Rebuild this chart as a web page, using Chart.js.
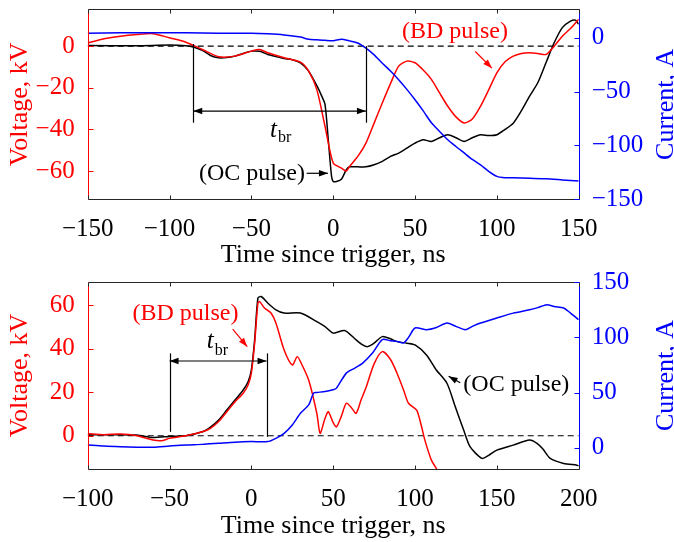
<!DOCTYPE html>
<html>
<head>
<meta charset="utf-8">
<script src="https://cdn.jsdelivr.net/npm/chart.js@4.4.1/dist/chart.umd.min.js"></script>
<style>
  html, body { margin: 0; padding: 0; overflow: hidden; background: #fff; width: 674px; height: 542px; }
  canvas { position: absolute; left: 0; }
  #top { top: 0; }
  #bottom { top: 271px; }
</style>
</head>
<body>
<canvas id="top" width="690" height="271"></canvas>
<canvas id="bottom" width="690" height="271"></canvas>
<script>
// ---- top panel data (ns, kV, A) ----
const topTimeTicks = [-150, -100, -50, 0, 50, 100, 150];
const topVoltTicks = [-60, -40, -20, 0];
const topAmpTicks = [-150, -100, -50, 0];

const topBdTime = [-150, -140, -130, -120, -110, -100, -90, -80, -70, -60, -50, -45, -40, -30, -20, -15, -10, -5, 0, 5, 8, 10, 15, 20, 25, 30, 35, 40, 45, 50, 55, 60, 65, 70, 75, 80, 85, 90, 95, 100, 105, 110, 115, 120, 125, 130, 135, 140, 145, 150];
const topBdVolt = [1.5, 3.5, 4.8, 5.6, 6, 4, 1.9, -1.6, -5.1, -4.8, -2.4, -1.6, -3.2, -5.6, -7.7, -12, -20.9, -38.5, -56.2, -58.6, -60, -57.8, -53, -46.6, -37, -27.3, -18, -9.6, -7.2, -8, -11.5, -16, -22.5, -28.9, -34, -36.9, -35, -28.9, -21, -12.8, -7.5, -4.8, -3.5, -3.2, -3.5, -4, 0, 4.8, 8.5, 12.9];

const topOcTime = [-150, -120, -100, -90, -85, -80, -75, -70, -65, -60, -55, -50, -45, -40, -35, -30, -25, -20, -15, -10, -7, -5, -3, -1, 0, 2, 5, 8, 10, 15, 20, 25, 30, 35, 40, 45, 50, 55, 60, 65, 70, 75, 80, 85, 90, 95, 100, 105, 110, 115, 120, 125, 130, 135, 140, 145, 148, 150];
const topOcVolt = [0.3, 0.2, 0.5, 0.2, -0.5, -2, -4.5, -5.6, -5.5, -4.8, -3.5, -2.4, -2.5, -4, -5, -6, -6.5, -8, -12, -19, -24, -28, -45, -62.6, -65, -65, -64, -59.4, -58, -58, -58, -57, -55.4, -53, -51.4, -49, -46.6, -45, -45.8, -44, -42.6, -44, -45.8, -44, -42.6, -43, -42.6, -40, -37, -31, -24, -17.6, -8, 1.6, 8.9, 12, 12.5, 10.5];

const topCurTime = [-150, -130, -110, -90, -70, -50, -40, -30, -20, -15, -10, -5, 0, 5, 10, 15, 20, 25, 30, 35, 40, 45, 50, 55, 60, 65, 70, 75, 80, 85, 90, 95, 100, 105, 110, 120, 130, 140, 150];
const topCurAmp = [4, 4.5, 4.5, 4.5, 4, 4, 3.5, 2.5, 0.5, -1.5, -2, -2.5, -2.8, -1.5, -3, -5, -9.8, -16, -23.7, -31, -39, -48, -57.7, -68, -79, -87, -94.7, -101, -107, -113, -118, -124, -128.7, -130, -130, -130.5, -131, -132, -133];

// ---- bottom panel data ----
const botTimeTicks = [-100, -50, 0, 50, 100, 150, 200];
const botVoltTicks = [0, 20, 40, 60];
const botAmpTicks = [0, 50, 100, 150];

const botBdTime = [-100, -90, -80, -70, -60, -55, -50, -40, -30, -25, -20, -15, -10, -5, -2, 0, 2, 4, 5, 8, 12, 15, 20, 25, 28, 30, 35, 40, 42, 45, 47, 50, 52, 55, 58, 61, 64, 67, 70, 75, 80, 85, 89, 93, 96, 101, 104, 106, 110, 113.4];
const botBdVolt = [1, 0.5, 0.8, 0, -2, -2.3, -1.2, 0, 1.8, 3.4, 6.5, 11, 15.6, 19.5, 23.3, 28.7, 42.5, 60.9, 61.6, 58.6, 56.3, 51.7, 39.4, 32.5, 36.3, 34, 25.6, 10.3, 1.1, 8, 11, 6, 4.1, 9, 14.9, 13, 10.3, 16.4, 22, 33, 38.6, 35, 28.7, 21, 14.9, 11.8, 4.1, -2, -11.2, -15.5];

const botOcTime = [-100, -80, -70, -60, -50, -40, -30, -25, -20, -15, -10, -5, -2, 0, 2, 4, 6, 10, 15, 20, 30, 40, 45, 50, 57, 64, 68, 71, 75, 80, 85, 89, 95, 100, 107, 113, 119.5, 124.6, 129.7, 133.7, 140.9, 145, 150, 160, 170, 174.5, 178, 182.6, 190.8, 198.9, 200];
const botOcVolt = [0.5, 0.5, 0.3, -0.8, -0.3, 0, 1.8, 4, 7.2, 11.8, 16.4, 21, 24.8, 30.2, 44, 63.2, 63.9, 60.9, 57.8, 56.3, 56.3, 52.4, 50.1, 47.1, 48.3, 44, 41.7, 40.9, 42.5, 45.5, 44.5, 43.2, 42.5, 41.7, 37.1, 30.2, 24.1, 13.3, 2.6, -5.1, -10.4, -9, -6.6, -4.3, -2, -3.5, -6, -10.4, -12.7, -13.5, -13.8];

const botCurTime = [-100, -90, -80, -70, -60, -50, -40, -30, -20, -10, 0, 10, 15, 20, 25, 30, 35, 38, 40, 45, 50, 52, 58, 63, 68, 74, 80, 85, 89, 93, 96, 100, 107, 113, 119.5, 125, 130.7, 135, 140, 150, 160, 170, 175, 180.6, 185, 190.8, 195, 200];
const botCurAmp = [2.5, 1.5, 0.9, 0.5, 0.4, 1.5, 2.5, 3, 4, 5, 5.5, 5.5, 8.5, 13, 20.6, 31.2, 38.8, 49.5, 50, 51, 52.5, 54, 67.6, 72, 76.7, 85.8, 98, 97, 96.4, 95, 100, 108.5, 107, 109, 113, 110, 107, 110, 113, 117.6, 122, 125, 127, 129.7, 128, 126.7, 122, 116];

const RED = '#ff0000', BLUE = '#0000ff', BLACK = '#000000', FRAME = '#262626';
const FONT = 'Liberation Serif, Times New Roman, serif';

const pairs = (xs, ys) => xs.map((x, i) => ({ x: x, y: ys[i] }));
const minus = v => (v < 0 ? '\u2212' + Math.abs(v) : String(v));

// arrow with filled head at (x2,y2)
function arrowHead(ctx, x1, y1, x2, y2) {
  const a = Math.atan2(y2 - y1, x2 - x1);
  const len = 9, w = 3.2;
  ctx.beginPath();
  ctx.moveTo(x2, y2);
  ctx.lineTo(x2 - len * Math.cos(a) + w * Math.sin(a), y2 - len * Math.sin(a) - w * Math.cos(a));
  ctx.lineTo(x2 - len * Math.cos(a) - w * Math.sin(a), y2 - len * Math.sin(a) + w * Math.cos(a));
  ctx.closePath();
  ctx.fill();
}

const notesPlugin = {
  id: 'notes',
  afterDatasetsDraw(chart, args, opts) {
    const { ctx } = chart;
    const xs = chart.scales.x, ys = chart.scales.yV;
    const px = t => xs.getPixelForValue(t), py = v => ys.getPixelForValue(v);
    ctx.save();
    ctx.lineWidth = 1.2;
    (opts.lines || []).forEach(l => {
      ctx.strokeStyle = BLACK;
      ctx.beginPath();
      ctx.moveTo(Math.round(px(l.t)) + 0.5, py(l.v1));
      ctx.lineTo(Math.round(px(l.t)) + 0.5, py(l.v2));
      ctx.stroke();
    });
    (opts.arrows || []).forEach(a => {
      const x1 = px(a.t1), y1 = py(a.v1), x2 = px(a.t2), y2 = py(a.v2);
      ctx.strokeStyle = a.color; ctx.fillStyle = a.color;
      ctx.beginPath(); ctx.moveTo(x1, y1); ctx.lineTo(x2, y2); ctx.stroke();
      arrowHead(ctx, x1, y1, x2, y2);
      if (a.both) arrowHead(ctx, x2, y2, x1, y1);
    });
    (opts.texts || []).forEach(t => {
      ctx.fillStyle = t.color;
      ctx.font = '24px ' + FONT;
      ctx.textAlign = t.align;
      ctx.textBaseline = 'middle';
      ctx.fillText(t.text, px(t.t), py(t.v));
    });
    if (opts.tbr) {
      const x = px(opts.tbr.t), y = py(opts.tbr.v);
      ctx.fillStyle = BLACK;
      ctx.textAlign = 'left';
      ctx.textBaseline = 'alphabetic';
      ctx.font = 'italic 25px ' + FONT;
      ctx.fillText('t', x, y);
      const w = ctx.measureText('t').width;
      ctx.font = '16px ' + FONT;
      ctx.fillText('br', x + w + 1, y + opts.tbr.sub);
    }
    ctx.restore();
  }
};

const framePlugin = {
  id: 'frame',
  afterDraw(chart) {
    const { ctx, chartArea: a } = chart;
    const xs = chart.scales.x, yv = chart.scales.yV, yi = chart.scales.yI;
    const L = Math.round(a.left) + 0.5, R = Math.round(a.right) + 0.5;
    const T = Math.round(a.top) + 0.5, B = Math.round(a.bottom) + 0.5;
    const seg = (x1, y1, x2, y2, c) => {
      ctx.strokeStyle = c; ctx.beginPath(); ctx.moveTo(x1, y1); ctx.lineTo(x2, y2); ctx.stroke();
    };
    ctx.save();
    ctx.lineWidth = 1;
    seg(L, T, R, T, FRAME);
    seg(L, B, R, B, FRAME);
    seg(L, T, L, B, RED);
    seg(R, T, R, B, BLUE);
    xs.ticks.forEach(tk => {
      const p = Math.round(xs.getPixelForValue(tk.value)) + 0.5;
      seg(p, B, p, B - 4, FRAME);
      seg(p, T, p, T + 4, FRAME);
    });
    yv.ticks.forEach(tk => {
      const p = Math.round(yv.getPixelForValue(tk.value)) + 0.5;
      seg(L, p, L + 5, p, RED);
    });
    yi.ticks.forEach(tk => {
      const p = Math.round(yi.getPixelForValue(tk.value)) + 0.5;
      seg(R, p, R - 5, p, BLUE);
    });
    // right axis title, reading bottom to top
    ctx.translate(673, (a.top + a.bottom) / 2);
    ctx.rotate(-Math.PI / 2);
    ctx.fillStyle = BLUE;
    ctx.font = '26px ' + FONT;
    ctx.textAlign = 'center';
    ctx.textBaseline = 'alphabetic';
    ctx.fillText('Current, A', 0, 0);
    ctx.restore();
  }
};

// keep the plot box where the reference has it
const noPad = s => { s.paddingTop = 0; s.paddingBottom = 0; s.paddingLeft = 0; s.paddingRight = 0; };

function makePanel(id, p) {
  const line = (data, color, order, yAxisID) => ({
    data: data, borderColor: color, borderWidth: 1.5, pointRadius: 0,
    tension: 0.25, order: order, yAxisID: yAxisID, fill: false
  });
  return new Chart(document.getElementById(id), {
    type: 'line',
    data: {
      datasets: [
        line(p.cur, BLUE, 0, 'yI'),
        line(p.bd, RED, 1, 'yV'),
        line(p.oc, BLACK, 2, 'yV'),
        Object.assign(line([{ x: p.xMin, y: 0 }, { x: p.xMax, y: 0 }], BLACK, 3, 'yV'),
          { borderDash: [6, 4], borderWidth: 1.2, tension: 0 })
      ]
    },
    options: {
      responsive: false,
      animation: false,
      events: [],
      layout: { padding: { top: p.padTop, left: 0, right: 0, bottom: 0 } },
      plugins: { legend: { display: false }, tooltip: { enabled: false }, notes: p.notes },
      scales: {
        x: {
          type: 'linear', position: 'bottom', min: p.xMin, max: p.xMax,
          afterBuildTicks: s => { s.ticks = p.xTicks.map(v => ({ value: v })); },
          afterFit: s => { s.height = p.xHeight; noPad(s); },
          grid: { display: false }, border: { display: false },
          ticks: { color: BLACK, font: { family: FONT, size: 25 }, padding: 7, maxRotation: 0, callback: minus },
          title: { display: true, text: 'Time since trigger, ns', color: BLACK, font: { family: FONT, size: 26 }, padding: { top: 0, bottom: 0.5 } }
        },
        yV: {
          type: 'linear', position: 'left', min: p.vMin, max: p.vMax,
          afterBuildTicks: s => { s.ticks = p.vTicks.map(v => ({ value: v })); },
          afterFit: s => { s.width = 87.7; noPad(s); },
          grid: { display: false }, border: { display: false },
          ticks: { color: RED, font: { family: FONT, size: 25 }, padding: 5, callback: minus },
          title: { display: true, text: 'Voltage, kV', color: RED, font: { family: FONT, size: 26 }, padding: { top: 4.6, bottom: 0 } }
        },
        yI: {
          type: 'linear', position: 'right', min: p.iMin, max: p.iMax,
          afterBuildTicks: s => { s.ticks = p.iTicks.map(v => ({ value: v })); },
          afterFit: s => { s.width = 690 - 578.7; noPad(s); },
          grid: { display: false }, border: { display: false },
          ticks: { color: BLUE, font: { family: FONT, size: 25 }, padding: 5, callback: minus }
        }
      }
    },
    plugins: [notesPlugin, framePlugin]
  });
}

makePanel('top', {
  bd: pairs(topBdTime, topBdVolt), oc: pairs(topOcTime, topOcVolt), cur: pairs(topCurTime, topCurAmp),
  xMin: -150, xMax: 150, xTicks: topTimeTicks,
  vMin: -73.6, vMax: 17.7, vTicks: topVoltTicks,
  iMin: -150, iMax: 26.3, iTicks: topAmpTicks,
  padTop: 9.3, xHeight: 71.7,
  notes: {
    lines: [{ t: -85.5, v1: 1, v2: -36.8 }, { t: 20, v1: 0, v2: -36.8 }],
    arrows: [
      { t1: -85.5, v1: -31.2, t2: 20, v2: -31.2, both: true, color: BLACK },
      { t1: -16.2, v1: -61.1, t2: -3.2, v2: -61.1, color: BLACK },
      { t1: 86.8, v1: -2.6, t2: 97, v2: -10.6, color: RED }
    ],
    texts: [
      { text: '(OC pulse)', t: -17.3, v: -61.1, align: 'right', color: BLACK },
      { text: '(BD pulse)', t: 74.4, v: 7.0, align: 'center', color: RED }
    ],
    tbr: { t: -38.6, v: -43.5, sub: 5 }
  }
});

makePanel('bottom', {
  bd: pairs(botBdTime, botBdVolt), oc: pairs(botOcTime, botOcVolt), cur: pairs(botCurTime, botCurAmp),
  xMin: -100, xMax: 200, xTicks: botTimeTicks,
  vMin: -15.4, vMax: 70.7, vTicks: botVoltTicks,
  iMin: -19.6, iMax: 150.5, iTicks: botAmpTicks,
  padTop: 10.7, xHeight: 72.7,
  notes: {
    lines: [{ t: -50, v1: 37.8, v2: 1.8 }, { t: 9.3, v1: 37.8, v2: -0.5 }],
    arrows: [
      { t1: -50, v1: 34.3, t2: 9.3, v2: 34.3, both: true, color: BLACK },
      { t1: -11.4, v1: 48.9, t2: -2.5, v2: 40.9, color: RED },
      { t1: 127.6, v1: 24.3, t2: 120.5, v2: 27.3, color: BLACK }
    ],
    texts: [
      { text: '(BD pulse)', t: -40.3, v: 56.2, align: 'center', color: RED },
      { text: '(OC pulse)', t: 129.5, v: 23.3, align: 'left', color: BLACK }
    ],
    tbr: { t: -27.3, v: 40.3, sub: 7 }
  }
});
</script>
</body>
</html>
